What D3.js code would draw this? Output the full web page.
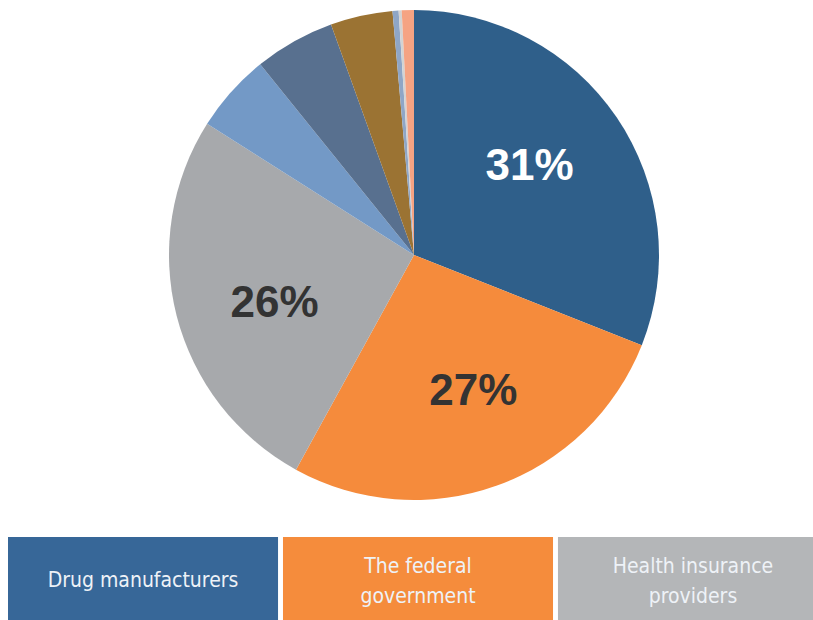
<!DOCTYPE html>
<html>
<head>
<meta charset="utf-8">
<script src="https://cdn.jsdelivr.net/npm/d3@7"></script>
<title>Pie</title>
<style>
body { margin: 0; background: #fff; }
</style>
</head>
<body>
<script>

var shares = [31, 27, 26, 5.2, 5.3, 4.1, 0.4, 0.2, 0.8];
var sliceColors = ["#2f5f8a", "#f58b3c", "#a7a9ac", "#7399c6", "#58708f", "#9b7333", "#8fa6c6", "#d3d3d3", "#f5a383"];
var pctLabels = ["31%", "27%", "26%"];
var labelColors = ["#ffffff", "#333333", "#333333"];
var legendNames = [["Drug manufacturers"], ["The federal", "government"], ["Health insurance", "providers"]];
var legendColors = ["#376798", "#f58c3c", "#b4b6b8"];

var width = 813,
    height = 620;

var svg = d3.select("body")
  .append("svg")
  .attr("width", width)
  .attr("height", height);

var cx = 414, cy = 255, r = 245;

var pie = d3.pie().sort(null).value(function(d) { return d; });
var arc = d3.arc().innerRadius(0).outerRadius(r);
var labelArc = d3.arc().innerRadius(r * 0.6).outerRadius(r * 0.6);

var g = svg.append("g").attr("transform", "translate(" + cx + "," + cy + ")");
var arcs = pie(shares);

g.selectAll("path")
  .data(arcs)
  .enter()
  .append("path")
  .attr("fill", function(d, i) { return sliceColors[i]; })
  .attr("d", arc);

// Excel nudges the labels a bit counter-clockwise of the slice middle
g.selectAll("text")
  .data(arcs.slice(0, pctLabels.length))
  .enter()
  .append("text")
  .attr("transform", function(d) {
    var a = (d.startAngle + d.endAngle) / 2 - 0.07;
    return "translate(" + (Math.sin(a) * r * 0.6) + "," + (-Math.cos(a) * r * 0.6) + ")";
  })
  .attr("text-anchor", "middle")
  .attr("dy", "0.36em")
  .attr("font-family", "Liberation Sans, Arial, sans-serif")
  .attr("font-weight", "bold")
  .attr("font-size", 44)
  .attr("fill", function(d, i) { return labelColors[i]; })
  .text(function(d, i) { return pctLabels[i]; });

// legend boxes
var x = d3.scaleBand().domain(d3.range(legendNames.length)).range([8, 828]).paddingInner(0.018);
var legend = svg.append("g");
var items = legend.selectAll("g")
  .data(legendNames)
  .enter()
  .append("g")
  .attr("transform", function(d, i) { return "translate(" + x(i) + ",537)"; });

items.append("rect")
  .attr("width", x.bandwidth())
  .attr("height", 90)
  .attr("fill", function(d, i) { return legendColors[i]; });

items.append("text")
  .attr("x", x.bandwidth() / 2)
  .attr("text-anchor", "middle")
  .attr("font-family", "DejaVu Sans Condensed, DejaVu Sans, sans-serif")
  .attr("font-stretch", "condensed")
  .attr("font-size", 21)
  .attr("fill", "#eef2f7")
  .selectAll("tspan")
  .data(function(d) { return d; })
  .enter()
  .append("tspan")
  .attr("x", x.bandwidth() / 2)
  .attr("y", function(d, i, nodes) {
    var n = nodes.length;
    return n === 1 ? 50 : 36 + i * 30;
  })
  .text(function(d) { return d; });

</script>
</body>
</html>
